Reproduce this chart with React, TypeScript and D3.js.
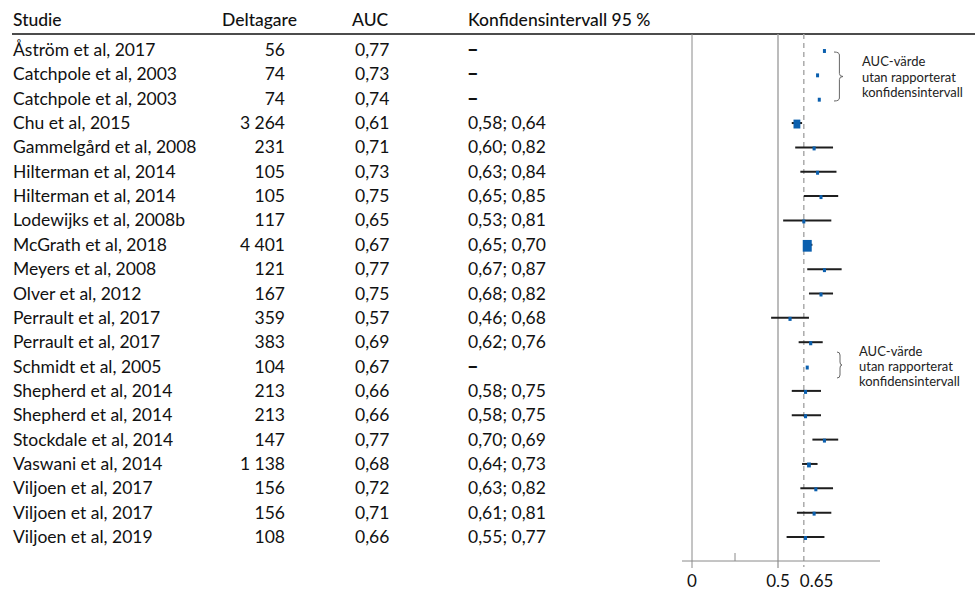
import React from "react";
import * as d3 from "d3";

// Studies in the forest plot, top to bottom
const studies = [
  "Åström et al, 2017",
  "Catchpole et al, 2003",
  "Catchpole et al, 2003",
  "Chu et al, 2015",
  "Gammelgård et al, 2008",
  "Hilterman et al, 2014",
  "Hilterman et al, 2014",
  "Lodewijks et al, 2008b",
  "McGrath et al, 2018",
  "Meyers et al, 2008",
  "Olver et al, 2012",
  "Perrault et al, 2017",
  "Perrault et al, 2017",
  "Schmidt et al, 2005",
  "Shepherd et al, 2014",
  "Shepherd et al, 2014",
  "Stockdale et al, 2014",
  "Vaswani et al, 2014",
  "Viljoen et al, 2017",
  "Viljoen et al, 2017",
  "Viljoen et al, 2019",
];

const participants = [56, 74, 74, 3264, 231, 105, 105, 117, 4401, 121, 167, 359, 383, 104, 213, 213, 147, 1138, 156, 156, 108];

const auc = [0.77, 0.73, 0.74, 0.61, 0.71, 0.73, 0.75, 0.65, 0.67, 0.77, 0.75, 0.57, 0.69, 0.67, 0.66, 0.66, 0.77, 0.68, 0.72, 0.71, 0.66];

// Confidence bounds (null = not reported)
const ciLow: (number | null)[] = [null, null, null, 0.58, 0.6, 0.63, 0.65, 0.53, 0.65, 0.67, 0.68, 0.46, 0.62, null, 0.58, 0.58, 0.7, 0.64, 0.63, 0.61, 0.55];
const ciHigh: (number | null)[] = [null, null, null, 0.64, 0.82, 0.84, 0.85, 0.81, 0.7, 0.87, 0.82, 0.68, 0.76, null, 0.75, 0.75, 0.85, 0.73, 0.82, 0.81, 0.77];

// Interval column as printed in the table
const ciLabels = [
  "–", "–", "–", "0,58; 0,64", "0,60; 0,82", "0,63; 0,84", "0,65; 0,85", "0,53; 0,81",
  "0,65; 0,70", "0,67; 0,87", "0,68; 0,82", "0,46; 0,68", "0,62; 0,76", "–", "0,58; 0,75",
  "0,58; 0,75", "0,70; 0,69", "0,64; 0,73", "0,63; 0,82", "0,61; 0,81", "0,55; 0,77",
];

const headers = ["Studie", "Deltagare", "AUC", "Konfidensintervall 95 %"];
const xTicks = [0, 0.25, 0.5, 0.65];
const xTickLabels = ["0", "", "0.5", "0.65"];
const refValues = [0, 0.5];
const meanLine = 0.65;
const noteLines = ["AUC-värde", "utan rapporterat", "konfidensintervall"];

const W = 975;
const H = 591;
const FONT = "Lato, 'Noto Sans', sans-serif";
const BLUE = "#0a5fae";

const fmtN = (n: number) => (n >= 1000 ? d3.format(",")(n).replace(",", " ") : String(n));
const fmtDec = (v: number) => v.toFixed(2).replace(".", ",");

export default function App() {
  const x = d3.scaleLinear().domain([0, 1]).range([692, 864]);
  const y = d3
    .scalePoint<number>()
    .domain(d3.range(studies.length))
    .range([50, 537]);
  const size = d3.scalePow().exponent(1.5).domain([0, 4401]).range([3, 9]);

  const plotTop = 34;
  const plotBottom = 568;
  const axisY = 561;

  const brace = (x0: number, y0: number, y1: number, w: number) => {
    const ym = (y0 + y1) / 2;
    const r = 3;
    const xm = x0 + w * 0.6;
    return `M${x0},${y0} Q${xm},${y0} ${xm},${y0 + r}
      L${xm},${ym - r} Q${xm},${ym} ${x0 + w},${ym}
      Q${xm},${ym} ${xm},${ym + r}
      L${xm},${y1 - r} Q${xm},${y1} ${x0},${y1}`;
  };

  return (
    <svg width={W} height={H} style={{ position: "absolute", left: 0, top: 0, background: "#fff" }} fontFamily={FONT}>
      {/* header */}
      <g fontSize={17.5} fill="#111" fontWeight={500}>
        <text x={13} y={26}>{headers[0]}</text>
        <text x={222} y={26}>{headers[1]}</text>
        <text x={352} y={26}>{headers[2]}</text>
        <text x={468} y={26}>{headers[3]}</text>
      </g>
      <line x1={12} x2={975} y1={34} y2={34} stroke="#111" strokeWidth={1.3} />

      {/* table rows */}
      <g fontSize={17.5} fill="#111">
        {studies.map((s, i) => (
          <g key={i} transform={`translate(0,${y(i)! + 6})`}>
            <text x={13}>{s}</text>
            <text x={285} textAnchor="end">{fmtN(participants[i])}</text>
            <text x={355}>{fmtDec(auc[i])}</text>
            {ciLow[i] == null ? (
              <text x={467} fontWeight={900} fontSize={20}>{ciLabels[i]}</text>
            ) : (
              <text x={468}>{ciLabels[i]}</text>
            )}
          </g>
        ))}
      </g>

      {/* reference lines */}
      {refValues.map((v, i) => (
        <line key={v} x1={x(v)} x2={x(v)} y1={plotTop} y2={plotBottom}
          stroke={i === 0 ? "#8a8a8a" : "#a0a0a0"} strokeWidth={i === 0 ? 1 : 1.4} />
      ))}
      <line x1={x(meanLine)} x2={x(meanLine)} y1={plotTop} y2={plotBottom - 1}
        stroke="#ababab" strokeWidth={1.5} strokeDasharray="5,4" />

      {/* x axis */}
      <line x1={682} x2={880} y1={axisY} y2={axisY} stroke="#8a8a8a" strokeWidth={1} />
      <line x1={x(0.25)} x2={x(0.25)} y1={axisY - 8} y2={axisY} stroke="#8a8a8a" strokeWidth={1} />
      <g fontSize={17} fill="#111">
        {xTicks.map((t, i) =>
          xTickLabels[i] ? (
            <text key={t} x={i === 3 ? x(t) - 4 : x(t)} y={587} textAnchor={i === 3 ? "start" : "middle"}>
              {xTickLabels[i]}
            </text>
          ) : null
        )}
      </g>

      {/* intervals and point estimates */}
      {studies.map((_, i) => {
        const lo = ciLow[i];
        const hi = ciHigh[i];
        const w = size(participants[i]);
        const h = w * 1.3;
        const cy = y(i)!;
        return (
          <g key={i}>
            {lo != null && hi != null && (
              <line x1={x(lo)} x2={x(hi)} y1={cy} y2={cy} stroke="#1e1e1e" strokeWidth={2} />
            )}
            <rect x={x(auc[i]) - w / 2} y={cy + 1 - h / 2} width={w} height={h} fill={BLUE} />
          </g>
        );
      })}

      {/* notes for estimates without interval */}
      <path d={brace(834, 52, 101, 9)} fill="none" stroke="#666" strokeWidth={1} />
      <g fontSize={13} fill="#222">
        {noteLines.map((t, i) => (
          <text key={i} x={862} y={66 + i * 15.5}>{t}</text>
        ))}
      </g>
      <path d={brace(837, 352, 378, 5)} fill="none" stroke="#666" strokeWidth={1} />
      <g fontSize={13} fill="#222">
        {noteLines.map((t, i) => (
          <text key={i} x={859} y={356 + i * 15}>{t}</text>
        ))}
      </g>
    </svg>
  );
}
